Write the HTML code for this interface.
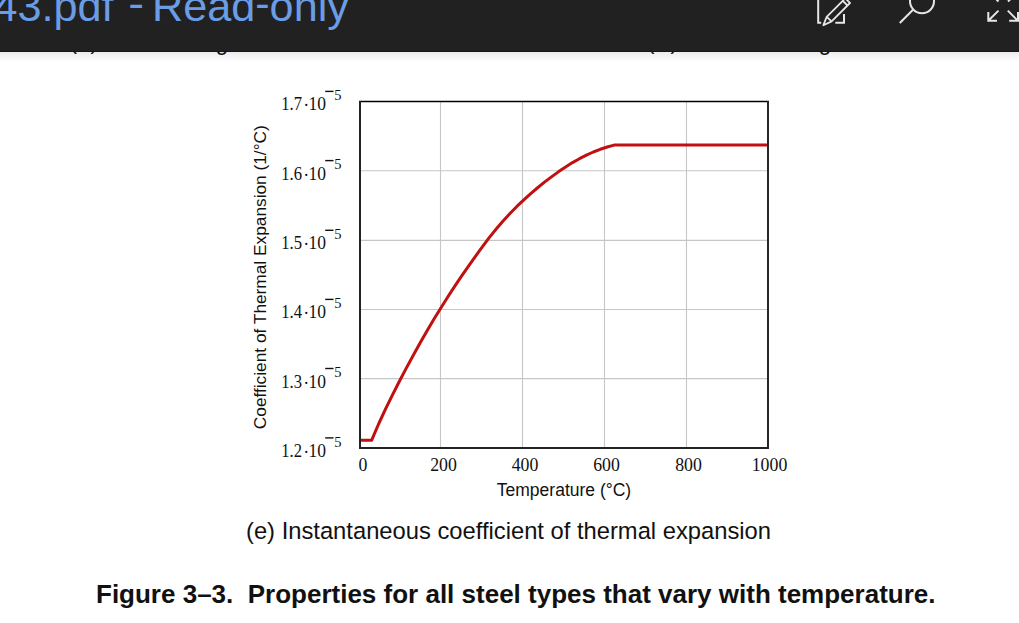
<!DOCTYPE html>
<html><head><meta charset="utf-8">
<style>
html,body{margin:0;padding:0;}
body{width:1019px;height:623px;overflow:hidden;background:#fff;position:relative;font-family:"Liberation Sans",sans-serif;}
.abs{position:absolute;white-space:nowrap;line-height:1;}
#bar{position:absolute;left:0;top:0;width:1019px;height:52px;background:#212121;overflow:hidden;border-bottom:0;}
#barline{position:absolute;left:0;top:51px;width:1019px;height:1px;background:#161616;}
#shadow{position:absolute;left:0;top:52px;width:1019px;height:10px;background:linear-gradient(#ececec,#fff);}
svg{position:absolute;left:0;top:0;}
</style></head><body>
<div id="shadow"></div>
<div class="abs" style="left:0;top:0;font-size:21px;color:#111;">
  <span class="abs" style="left:70px;top:32px;">(</span>
  <span class="abs" style="left:90.5px;top:32px;">)</span>
  <span class="abs" style="left:215.5px;top:30.5px;font-size:23px;">g</span>
  <span class="abs" style="left:647.5px;top:32px;">(</span>
  <span class="abs" style="left:670.5px;top:32px;">)</span>
  <span class="abs" style="left:818.5px;top:30.5px;font-size:23px;">g</span>
</div>
<div id="bar">
  <div class="abs" style="left:-6.5px;top:-15px;font-size:43.2px;color:#6b9de6;">43.pdf <span style="position:relative;top:-3px;left:3.5px;display:inline-block;transform:scaleX(1.1)">-</span> Read<span style="position:relative;top:-3px">-</span>only</div>
  <svg width="1019" height="52" viewBox="0 0 1019 52" fill="none" stroke="#e6e6e6" stroke-width="2">
    <path d="M818.2,-2 V22.8 H821.2"/>
    <path d="M835.3,22.8 H844 V14"/>
    <path d="M823.4,25.2 L826.7,16.9 L845.3,-1.7 L850,3 L831.6,21.4 Z" stroke-width="1.8" stroke-linejoin="round"/>
    <path d="M826.7,16.9 L831.6,21.4 M842.8,0.8 L847.5,5.5" stroke-width="1.8"/>
    <circle cx="922" cy="1.2" r="12"/>
    <path d="M913,9.8 L899.8,23"/>
    <path d="M988.3,12 V20.8 H997 M988.3,20.8 L998.5,10.6"/>
    <path d="M1018,12 V20.8 H1009.2 M1018,20.8 L1007.8,10.6"/>
    <path d="M998.5,1.5 L995,-2 M1008,1.5 L1011.5,-2"/>
  </svg>
  <div id="barline"></div>
</div>

<svg width="1019" height="623" viewBox="0 0 1019 623">
  <g stroke="#c6c6c6" stroke-width="1.1" fill="none">
    <path d="M440.5,102 V447 M522.5,102 V447 M604.5,102 V447 M686.5,102 V447"/>
    <path d="M361,170.7 H767 M361,240.4 H767 M361,309.5 H767 M361,378.6 H767"/>
  </g>
  <g fill="none">
    <path d="M359,101.5 H769" stroke="#000" stroke-width="1.6"/>
    <path d="M359,448 H769" stroke="#222" stroke-width="2"/>
    <path d="M360,101 V449" stroke="#222" stroke-width="2"/>
    <path d="M768,101 V449" stroke="#262626" stroke-width="2"/>
  </g>
  <path d="M361,440.3 L371.7,440.2 378.6,424.0 385.6,408.9 392.5,394.8 399.4,381.3 406.3,368.1 413.3,355.3 420.2,342.8 427.1,330.7 434.0,319.0 441.0,307.7 447.9,296.7 454.8,286.1 461.7,275.9 468.7,265.9 475.6,256.1 482.5,246.6 489.4,237.4 496.4,228.8 503.3,220.7 510.2,213.2 517.1,206.2 524.1,199.6 531.0,193.4 537.9,187.5 544.8,181.9 551.8,176.6 558.7,171.6 565.6,166.9 572.5,162.6 579.5,158.7 586.4,155.1 593.3,152.0 600.2,149.3 607.2,147.0 614.1,145.1 L767,145" fill="none" stroke="#c01010" stroke-width="3" stroke-linejoin="round"/>
  <g font-family="Liberation Serif" font-size="18" fill="#111">
    <text transform="translate(281.3,110.1) scale(0.925,1)">1.7</text><text x="303.2" y="111.1">·</text><text transform="translate(308.4,110.1) scale(0.973,1)">10</text><rect x="325.2" y="90.7" width="8.3" height="1.4"/><text x="334.3" y="100.1" font-size="14.5">5</text>
    <text transform="translate(281.3,179.9) scale(0.925,1)">1.6</text><text x="303.2" y="180.9">·</text><text transform="translate(308.4,179.9) scale(0.973,1)">10</text><rect x="325.2" y="159.9" width="8.3" height="1.4"/><text x="334.3" y="169.3" font-size="14.5">5</text>
    <text transform="translate(281.3,249.4) scale(0.925,1)">1.5</text><text x="303.2" y="250.4">·</text><text transform="translate(308.4,249.4) scale(0.973,1)">10</text><rect x="325.2" y="229.6" width="8.3" height="1.4"/><text x="334.3" y="239.0" font-size="14.5">5</text>
    <text transform="translate(281.3,318.3) scale(0.925,1)">1.4</text><text x="303.2" y="319.3">·</text><text transform="translate(308.4,318.3) scale(0.973,1)">10</text><rect x="325.2" y="298.7" width="8.3" height="1.4"/><text x="334.3" y="308.1" font-size="14.5">5</text>
    <text transform="translate(281.3,387.6) scale(0.925,1)">1.3</text><text x="303.2" y="388.6">·</text><text transform="translate(308.4,387.6) scale(0.973,1)">10</text><rect x="325.2" y="367.8" width="8.3" height="1.4"/><text x="334.3" y="377.2" font-size="14.5">5</text>
    <text transform="translate(281.3,456.8) scale(0.925,1)">1.2</text><text x="303.2" y="457.8">·</text><text transform="translate(308.4,456.8) scale(0.973,1)">10</text><rect x="325.2" y="437.2" width="8.3" height="1.4"/><text x="334.3" y="446.6" font-size="14.5">5</text>
  </g>
  <g font-family="Liberation Serif" font-size="17.8" fill="#111" text-anchor="middle">
    <text x="363" y="470.9">0</text>
    <text x="443.5" y="470.9">200</text>
    <text x="525" y="470.9">400</text>
    <text x="606.5" y="470.9">600</text>
    <text x="688.5" y="470.9">800</text>
    <text x="769.5" y="470.9">1000</text>
  </g>
  <text x="564" y="496" font-family="Liberation Sans" font-size="17.5" fill="#111" text-anchor="middle">Temperature (°C)</text>
  <text transform="translate(266.2,277.2) rotate(-90)" font-family="Liberation Sans" font-size="17.3" fill="#111" text-anchor="middle">Coefficient of Thermal Expansion (1/°C)</text>
</svg>
<div class="abs" style="left:246px;top:519px;font-size:23.75px;color:#111;">(e) Instantaneous coefficient of thermal expansion</div>
<div class="abs" style="left:96px;top:581px;font-size:26px;font-weight:bold;color:#111;">Figure 3–3.&nbsp; Properties for all steel types that vary with temperature.</div>
</body></html>
